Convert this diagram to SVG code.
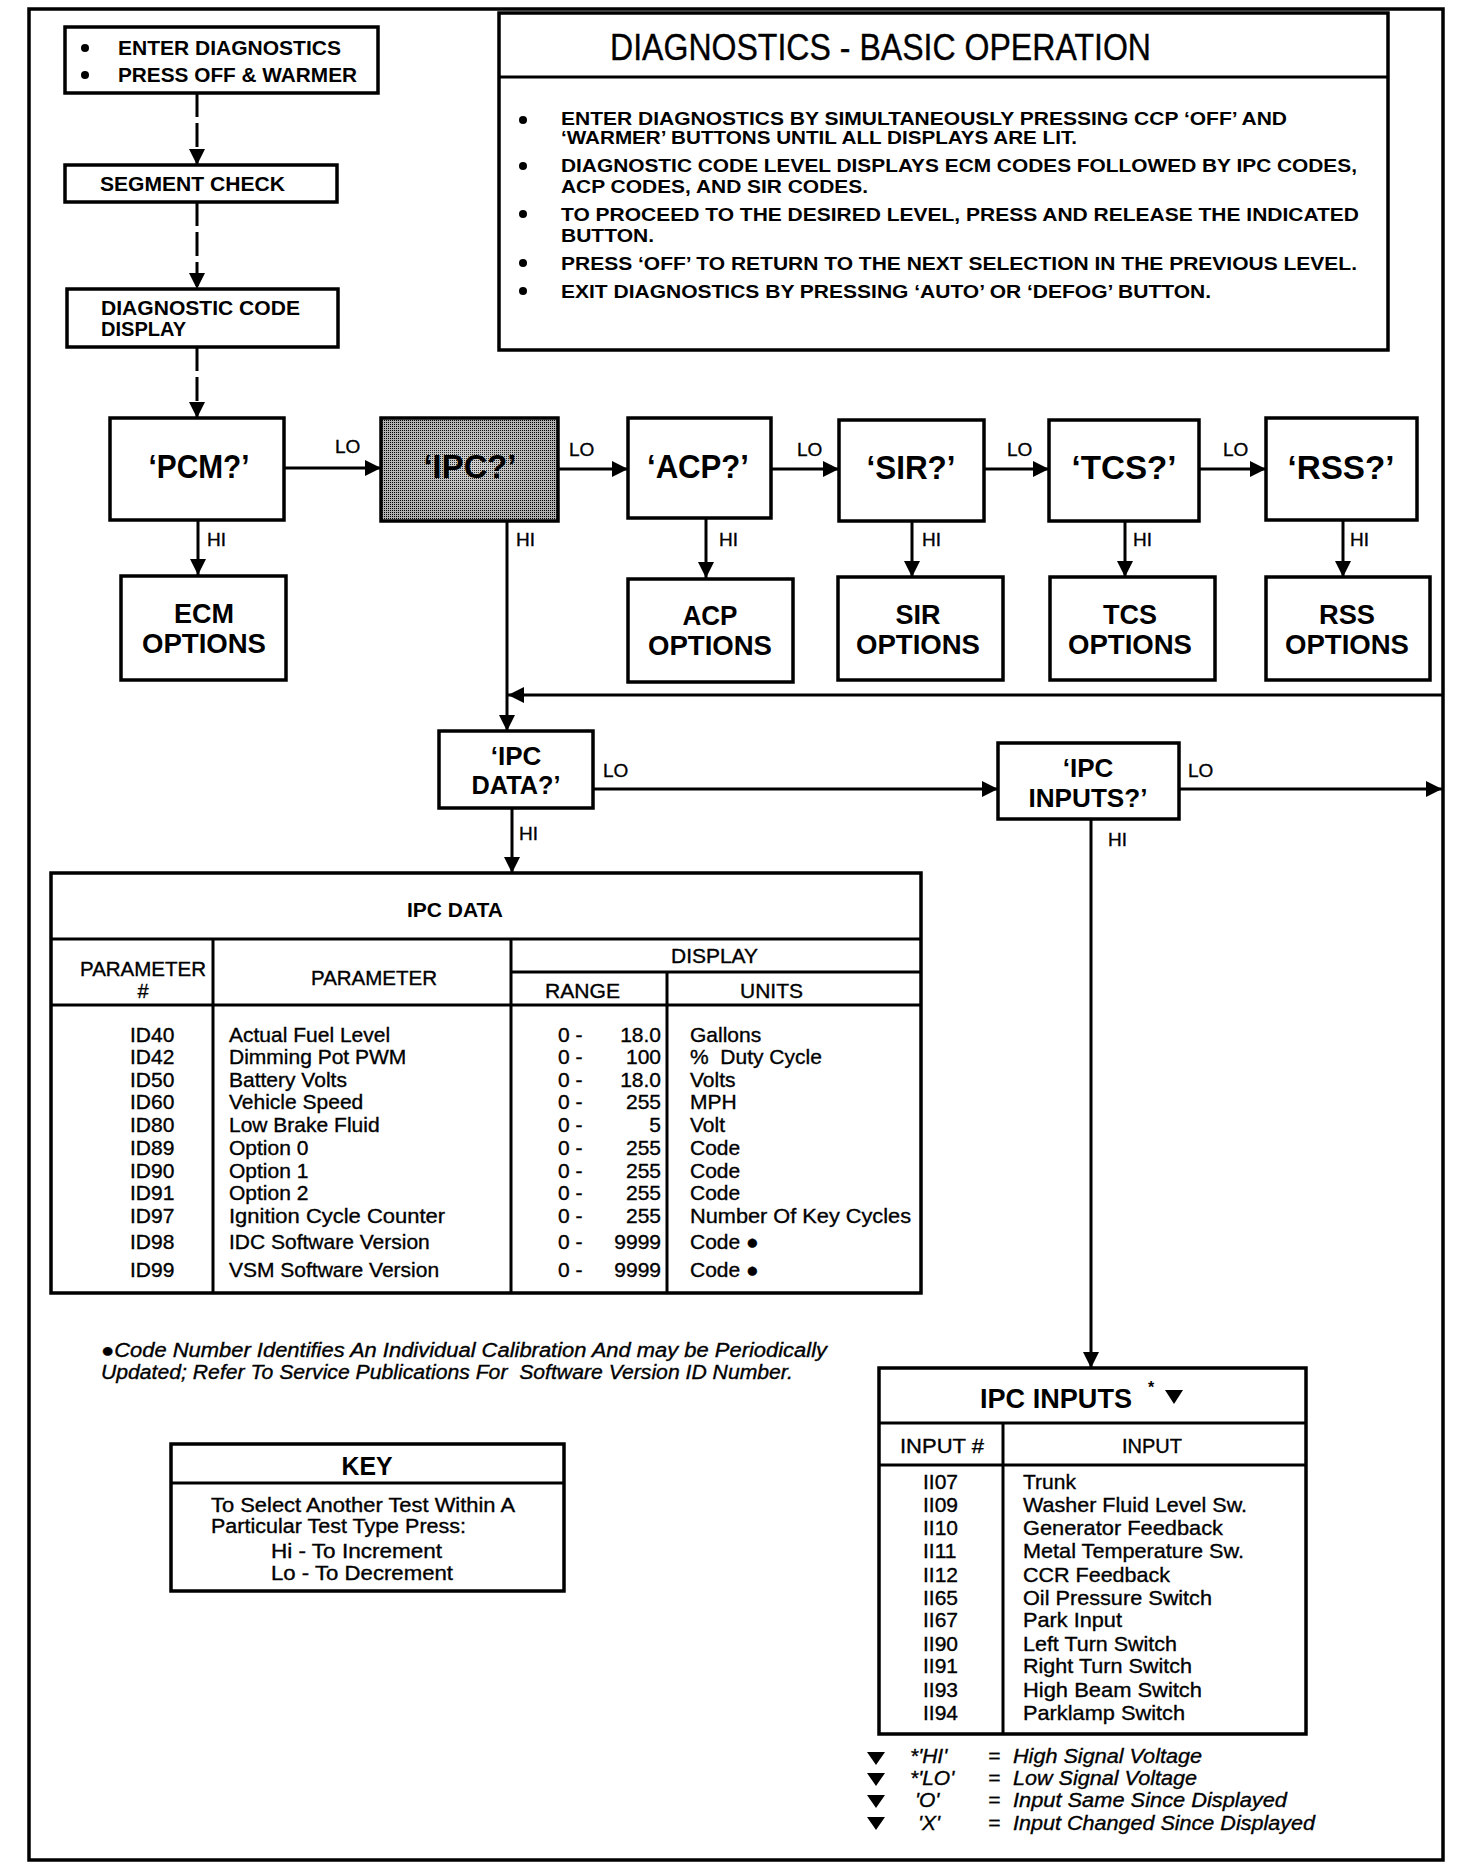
<svg xmlns="http://www.w3.org/2000/svg" width="1472" height="1872" viewBox="0 0 1472 1872">
<style>
text{font-family:"Liberation Sans",Arial,sans-serif;fill:#000}
.b{font-weight:bold}
.box{fill:#fff;stroke:#000;stroke-width:3.5}
.ln{fill:none;stroke:#000;stroke-width:3}
.dash{stroke-dasharray:24 6}
.c{text-anchor:middle}
.e{text-anchor:end}
.it{font-style:italic}
.t20{font-size:20px}
.t21{font-size:21px}
.lbl{font-size:19px}
.big{font-size:33px;font-weight:bold;text-anchor:middle}
.opt{font-size:27px;font-weight:bold;text-anchor:middle}
.db{font-size:18px;font-weight:bold}
.hv{stroke:#000;stroke-width:0.35}
</style>
<defs>
<marker id="ah" viewBox="0 0 16 16" refX="16" refY="8" markerWidth="16" markerHeight="16" orient="auto" markerUnits="userSpaceOnUse"><path d="M0,0 L16,8 L0,16 Z" fill="#000"/></marker>
<pattern id="dith" width="2" height="2" patternUnits="userSpaceOnUse"><rect width="2" height="2" fill="#c8c8c8"/><rect width="1" height="1" fill="#000"/></pattern>
<radialGradient id="glow" cx="0.5" cy="0.45" r="0.6"><stop offset="0" stop-color="#fff" stop-opacity="0.2"/><stop offset="1" stop-color="#000" stop-opacity="0.12"/></radialGradient>
</defs>

<rect id="frame" x="29" y="9" width="1414" height="1851" fill="none" stroke="#000" stroke-width="3.5"/>

<g id="connectors">
<line class="ln dash" x1="197" y1="93" x2="197" y2="165" marker-end="url(#ah)"/>
<line class="ln dash" x1="197" y1="202" x2="197" y2="289" marker-end="url(#ah)"/>
<line class="ln dash" x1="197" y1="347" x2="197" y2="418" marker-end="url(#ah)"/>
<line class="ln" x1="284" y1="468" x2="381" y2="468" marker-end="url(#ah)"/>
<line class="ln" x1="558" y1="469" x2="628" y2="469" marker-end="url(#ah)"/>
<line class="ln" x1="771" y1="469" x2="839" y2="469" marker-end="url(#ah)"/>
<line class="ln" x1="984" y1="469" x2="1049" y2="469" marker-end="url(#ah)"/>
<line class="ln" x1="1199" y1="469" x2="1266" y2="469" marker-end="url(#ah)"/>
<line class="ln" x1="198" y1="520" x2="198" y2="575" marker-end="url(#ah)"/>
<line class="ln" x1="706" y1="518" x2="706" y2="578" marker-end="url(#ah)"/>
<line class="ln" x1="912" y1="521" x2="912" y2="577" marker-end="url(#ah)"/>
<line class="ln" x1="1125" y1="521" x2="1125" y2="577" marker-end="url(#ah)"/>
<line class="ln" x1="1343" y1="520" x2="1343" y2="577" marker-end="url(#ah)"/>
<line class="ln" x1="507" y1="521" x2="507" y2="731" marker-end="url(#ah)"/>
<line class="ln" x1="1443" y1="695" x2="508" y2="695" marker-end="url(#ah)"/>
<line class="ln" x1="593" y1="789" x2="998" y2="789" marker-end="url(#ah)"/>
<line class="ln" x1="1179" y1="789" x2="1442" y2="789" marker-end="url(#ah)"/>
<line class="ln" x1="512" y1="809" x2="512" y2="873" marker-end="url(#ah)"/>
<line class="ln" x1="1091" y1="820" x2="1091" y2="1368" marker-end="url(#ah)"/>
<g class="hv">
<text class="lbl" x="335" y="453">LO</text>
<text class="lbl" x="569" y="456">LO</text>
<text class="lbl" x="797" y="456">LO</text>
<text class="lbl" x="1007" y="456">LO</text>
<text class="lbl" x="1223" y="456">LO</text>
<text class="lbl" x="207" y="546">HI</text>
<text class="lbl" x="516" y="546">HI</text>
<text class="lbl" x="719" y="546">HI</text>
<text class="lbl" x="922" y="546">HI</text>
<text class="lbl" x="1133" y="546">HI</text>
<text class="lbl" x="1350" y="546">HI</text>
<text class="lbl" x="603" y="777">LO</text>
<text class="lbl" x="519" y="840">HI</text>
<text class="lbl" x="1188" y="777">LO</text>
<text class="lbl" x="1108" y="846">HI</text>
</g>
</g>

<g id="enter">
<rect class="box" x="65" y="27" width="313" height="66"/>
<circle cx="85" cy="48" r="4"/>
<circle cx="85" cy="75" r="4"/>
<text class="b t21" x="118" y="55" textLength="223" lengthAdjust="spacingAndGlyphs">ENTER DIAGNOSTICS</text>
<text class="b t21" x="118" y="82" textLength="239" lengthAdjust="spacingAndGlyphs">PRESS OFF &amp; WARMER</text>
</g>

<g id="segment">
<rect class="box" x="65" y="165" width="272" height="37"/>
<text class="b t21" x="100" y="191" textLength="185" lengthAdjust="spacingAndGlyphs">SEGMENT CHECK</text>
</g>

<g id="codedisplay">
<rect class="box" x="67" y="289" width="271" height="58"/>
<text class="b t21" x="101" y="315" textLength="199" lengthAdjust="spacingAndGlyphs">DIAGNOSTIC CODE</text>
<text class="b t21" x="101" y="336" textLength="85" lengthAdjust="spacingAndGlyphs">DISPLAY</text>
</g>

<g id="basicop">
<rect class="box" x="499" y="13" width="889" height="337"/>
<line class="ln" x1="499" y1="77" x2="1388" y2="77" stroke-width="3.5"/>
<text class="hv" x="610" y="60" font-size="37" textLength="541" lengthAdjust="spacingAndGlyphs">DIAGNOSTICS - BASIC OPERATION</text>
<circle cx="523" cy="120" r="4"/>
<circle cx="523" cy="166" r="4"/>
<circle cx="523" cy="214" r="4"/>
<circle cx="523" cy="263" r="4"/>
<circle cx="523" cy="291" r="4"/>
<text class="db" x="561" y="125" textLength="726" lengthAdjust="spacingAndGlyphs">ENTER DIAGNOSTICS BY SIMULTANEOUSLY PRESSING CCP ‘OFF’ AND</text>
<text class="db" x="561" y="144" textLength="516" lengthAdjust="spacingAndGlyphs">‘WARMER’ BUTTONS UNTIL ALL DISPLAYS ARE LIT.</text>
<text class="db" x="561" y="172" textLength="796" lengthAdjust="spacingAndGlyphs">DIAGNOSTIC CODE LEVEL DISPLAYS ECM CODES FOLLOWED BY IPC CODES,</text>
<text class="db" x="561" y="193" textLength="307" lengthAdjust="spacingAndGlyphs">ACP CODES, AND SIR CODES.</text>
<text class="db" x="561" y="221" textLength="798" lengthAdjust="spacingAndGlyphs">TO PROCEED TO THE DESIRED LEVEL, PRESS AND RELEASE THE INDICATED</text>
<text class="db" x="561" y="242" textLength="93" lengthAdjust="spacingAndGlyphs">BUTTON.</text>
<text class="db" x="561" y="270" textLength="796" lengthAdjust="spacingAndGlyphs">PRESS ‘OFF’ TO RETURN TO THE NEXT SELECTION IN THE PREVIOUS LEVEL.</text>
<text class="db" x="561" y="298" textLength="650" lengthAdjust="spacingAndGlyphs">EXIT DIAGNOSTICS BY PRESSING ‘AUTO’ OR ‘DEFOG’ BUTTON.</text>
</g>

<g id="pcm">
<rect class="box" x="110" y="418" width="174" height="102"/>
<text class="big" x="199" y="478" textLength="101" lengthAdjust="spacingAndGlyphs">‘PCM?’</text>
</g>
<g id="ipc">
<rect x="381" y="418" width="177" height="103" fill="url(#dith)" stroke="#000" stroke-width="3.5"/>
<rect x="383" y="420" width="173" height="99" fill="url(#glow)"/>
<text class="big" x="470" y="478" textLength="93" lengthAdjust="spacingAndGlyphs">‘IPC?’</text>
</g>
<g id="acp">
<rect class="box" x="628" y="418" width="143" height="100"/>
<text class="big" x="698" y="478" textLength="102" lengthAdjust="spacingAndGlyphs">‘ACP?’</text>
</g>
<g id="sir">
<rect class="box" x="839" y="420" width="145" height="101"/>
<text class="big" x="911" y="479" textLength="89" lengthAdjust="spacingAndGlyphs">‘SIR?’</text>
</g>
<g id="tcs">
<rect class="box" x="1049" y="420" width="150" height="101"/>
<text class="big" x="1124" y="479" textLength="105" lengthAdjust="spacingAndGlyphs">‘TCS?’</text>
</g>
<g id="rss">
<rect class="box" x="1266" y="418" width="151" height="102"/>
<text class="big" x="1341" y="479" textLength="107" lengthAdjust="spacingAndGlyphs">‘RSS?’</text>
</g>

<g id="ecmopt">
<rect class="box" x="121" y="576" width="165" height="104"/>
<text class="opt" x="204" y="623" textLength="60" lengthAdjust="spacingAndGlyphs">ECM</text>
<text class="opt" x="204" y="653" textLength="124" lengthAdjust="spacingAndGlyphs">OPTIONS</text>
</g>
<g id="acpopt">
<rect class="box" x="628" y="579" width="165" height="103"/>
<text class="opt" x="710" y="625" textLength="55" lengthAdjust="spacingAndGlyphs">ACP</text>
<text class="opt" x="710" y="655" textLength="124" lengthAdjust="spacingAndGlyphs">OPTIONS</text>
</g>
<g id="siropt">
<rect class="box" x="838" y="577" width="165" height="103"/>
<text class="opt" x="918" y="624" textLength="45" lengthAdjust="spacingAndGlyphs">SIR</text>
<text class="opt" x="918" y="654" textLength="124" lengthAdjust="spacingAndGlyphs">OPTIONS</text>
</g>
<g id="tcsopt">
<rect class="box" x="1050" y="577" width="165" height="103"/>
<text class="opt" x="1130" y="624" textLength="54" lengthAdjust="spacingAndGlyphs">TCS</text>
<text class="opt" x="1130" y="654" textLength="124" lengthAdjust="spacingAndGlyphs">OPTIONS</text>
</g>
<g id="rssopt">
<rect class="box" x="1266" y="577" width="164" height="103"/>
<text class="opt" x="1347" y="624" textLength="56" lengthAdjust="spacingAndGlyphs">RSS</text>
<text class="opt" x="1347" y="654" textLength="124" lengthAdjust="spacingAndGlyphs">OPTIONS</text>
</g>

<g id="ipcdataq">
<rect class="box" x="439" y="731" width="154" height="77"/>
<text class="b c" x="516" y="765" font-size="26">‘IPC</text>
<text class="b c" x="516" y="794" font-size="26" textLength="89" lengthAdjust="spacingAndGlyphs">DATA?’</text>
</g>
<g id="ipcinputsq">
<rect class="box" x="998" y="743" width="181" height="76"/>
<text class="b c" x="1088" y="777" font-size="26">‘IPC</text>
<text class="b c" x="1088" y="807" font-size="26" textLength="119" lengthAdjust="spacingAndGlyphs">INPUTS?’</text>
</g>

<g id="ipcdata">
<rect class="box" x="51" y="873" width="870" height="420"/>
<g class="ln">
<line x1="51" y1="939" x2="921" y2="939"/>
<line x1="511" y1="972" x2="921" y2="972"/>
<line x1="51" y1="1005" x2="921" y2="1005"/>
<line x1="213" y1="939" x2="213" y2="1293"/>
<line x1="511" y1="939" x2="511" y2="1293"/>
<line x1="667" y1="972" x2="667" y2="1293"/>
</g>
<text class="b c t21" x="455" y="917">IPC DATA</text>
<g class="hv">
<text x="80" y="976" font-size="20" textLength="126" lengthAdjust="spacingAndGlyphs">PARAMETER</text>
<text class="c" x="143" y="998" font-size="20">#</text>
<text x="311" y="985" font-size="20" textLength="126" lengthAdjust="spacingAndGlyphs">PARAMETER</text>
<text x="671" y="963" font-size="20" textLength="87" lengthAdjust="spacingAndGlyphs">DISPLAY</text>
<text x="545" y="998" font-size="20" textLength="75" lengthAdjust="spacingAndGlyphs">RANGE</text>
<text x="740" y="998" font-size="20" textLength="63" lengthAdjust="spacingAndGlyphs">UNITS</text>
</g>
<g class="t21 hv">
<text x="130" y="1042">ID40</text><text x="229" y="1042">Actual Fuel Level</text><text x="558" y="1042">0 -</text><text class="e" x="661" y="1042">18.0</text><text x="690" y="1042">Gallons</text>
<text x="130" y="1064">ID42</text><text x="229" y="1064">Dimming Pot PWM</text><text x="558" y="1064">0 -</text><text class="e" x="661" y="1064">100</text><text x="690" y="1064" xml:space="preserve">%  Duty Cycle</text>
<text x="130" y="1087">ID50</text><text x="229" y="1087">Battery Volts</text><text x="558" y="1087">0 -</text><text class="e" x="661" y="1087">18.0</text><text x="690" y="1087">Volts</text>
<text x="130" y="1109">ID60</text><text x="229" y="1109">Vehicle Speed</text><text x="558" y="1109">0 -</text><text class="e" x="661" y="1109">255</text><text x="690" y="1109">MPH</text>
<text x="130" y="1132">ID80</text><text x="229" y="1132">Low Brake Fluid</text><text x="558" y="1132">0 -</text><text class="e" x="661" y="1132">5</text><text x="690" y="1132">Volt</text>
<text x="130" y="1155">ID89</text><text x="229" y="1155">Option 0</text><text x="558" y="1155">0 -</text><text class="e" x="661" y="1155">255</text><text x="690" y="1155">Code</text>
<text x="130" y="1178">ID90</text><text x="229" y="1178">Option 1</text><text x="558" y="1178">0 -</text><text class="e" x="661" y="1178">255</text><text x="690" y="1178">Code</text>
<text x="130" y="1200">ID91</text><text x="229" y="1200">Option 2</text><text x="558" y="1200">0 -</text><text class="e" x="661" y="1200">255</text><text x="690" y="1200">Code</text>
<text x="130" y="1223">ID97</text><text x="229" y="1223" textLength="216" lengthAdjust="spacingAndGlyphs">Ignition Cycle Counter</text><text x="558" y="1223">0 -</text><text class="e" x="661" y="1223">255</text><text x="690" y="1223" textLength="221" lengthAdjust="spacingAndGlyphs">Number Of Key Cycles</text>
<text x="130" y="1249">ID98</text><text x="229" y="1249">IDC Software Version</text><text x="558" y="1249">0 -</text><text class="e" x="661" y="1249">9999</text><text x="690" y="1249">Code ●</text>
<text x="130" y="1277">ID99</text><text x="229" y="1277">VSM Software Version</text><text x="558" y="1277">0 -</text><text class="e" x="661" y="1277">9999</text><text x="690" y="1277">Code ●</text>
</g>
</g>

<g id="footnote" class="hv">
<text class="it t20" x="101" y="1357" textLength="726" lengthAdjust="spacingAndGlyphs">●Code Number Identifies An Individual Calibration And may be Periodically</text>
<text class="it t20" x="101" y="1379" textLength="692" lengthAdjust="spacingAndGlyphs" xml:space="preserve">Updated; Refer To Service Publications For  Software Version ID Number.</text>
</g>

<g id="key">
<rect class="box" x="171" y="1444" width="393" height="147"/>
<line class="ln" x1="171" y1="1483" x2="564" y2="1483"/>
<text class="b c" x="367" y="1475" font-size="26" textLength="51" lengthAdjust="spacingAndGlyphs">KEY</text>
<g class="hv">
<text class="t20" x="211" y="1512" textLength="304" lengthAdjust="spacingAndGlyphs">To Select Another Test Within A</text>
<text class="t20" x="211" y="1533" textLength="255" lengthAdjust="spacingAndGlyphs">Particular Test Type Press:</text>
<text class="t20" x="271" y="1558" textLength="171" lengthAdjust="spacingAndGlyphs">Hi - To Increment</text>
<text class="t20" x="271" y="1580" textLength="182" lengthAdjust="spacingAndGlyphs">Lo - To Decrement</text>
</g>
</g>

<g id="ipcinputs">
<rect class="box" x="879" y="1368" width="427" height="366"/>
<g class="ln">
<line x1="879" y1="1423" x2="1306" y2="1423"/>
<line x1="879" y1="1465" x2="1306" y2="1465"/>
<line x1="1003" y1="1423" x2="1003" y2="1734"/>
</g>
<text class="b" x="980" y="1408" font-size="27" textLength="152" lengthAdjust="spacingAndGlyphs">IPC INPUTS</text>
<text class="b" x="1148" y="1393" font-size="16">*</text>
<polygon points="1165,1390 1183,1390 1174,1404"/>
<g class="hv">
<text x="900" y="1453" font-size="20" textLength="84" lengthAdjust="spacingAndGlyphs">INPUT #</text>
<text x="1122" y="1453" font-size="20" textLength="60" lengthAdjust="spacingAndGlyphs">INPUT</text>
</g>
<g class="t21 hv">
<text x="923" y="1489">II07</text><text x="1023" y="1489">Trunk</text>
<text x="923" y="1512">II09</text><text x="1023" y="1512" textLength="224" lengthAdjust="spacingAndGlyphs">Washer Fluid Level Sw.</text>
<text x="923" y="1535">II10</text><text x="1023" y="1535" textLength="200" lengthAdjust="spacingAndGlyphs">Generator Feedback</text>
<text x="923" y="1558">II11</text><text x="1023" y="1558" textLength="221" lengthAdjust="spacingAndGlyphs">Metal Temperature Sw.</text>
<text x="923" y="1582">II12</text><text x="1023" y="1582" textLength="147" lengthAdjust="spacingAndGlyphs">CCR Feedback</text>
<text x="923" y="1605">II65</text><text x="1023" y="1605" textLength="189" lengthAdjust="spacingAndGlyphs">Oil Pressure Switch</text>
<text x="923" y="1627">II67</text><text x="1023" y="1627" textLength="99" lengthAdjust="spacingAndGlyphs">Park Input</text>
<text x="923" y="1651">II90</text><text x="1023" y="1651" textLength="154" lengthAdjust="spacingAndGlyphs">Left Turn Switch</text>
<text x="923" y="1673">II91</text><text x="1023" y="1673" textLength="169" lengthAdjust="spacingAndGlyphs">Right Turn Switch</text>
<text x="923" y="1697">II93</text><text x="1023" y="1697" textLength="179" lengthAdjust="spacingAndGlyphs">High Beam Switch</text>
<text x="923" y="1720">II94</text><text x="1023" y="1720" textLength="162" lengthAdjust="spacingAndGlyphs">Parklamp Switch</text>
</g>
</g>

<g id="legend">
<polygon points="867,1752 885,1752 876,1765"/>
<polygon points="867,1773 885,1773 876,1786"/>
<polygon points="867,1795 885,1795 876,1808"/>
<polygon points="867,1817 885,1817 876,1830"/>
<g class="it t21 hv">
<text x="910" y="1763">*'HI'</text><text x="988" y="1763">=</text><text x="1013" y="1763" textLength="189" lengthAdjust="spacingAndGlyphs">High Signal Voltage</text>
<text x="910" y="1785">*'LO'</text><text x="988" y="1785">=</text><text x="1013" y="1785" textLength="184" lengthAdjust="spacingAndGlyphs">Low Signal Voltage</text>
<text x="915" y="1807">'O'</text><text x="988" y="1807">=</text><text x="1013" y="1807" textLength="274" lengthAdjust="spacingAndGlyphs">Input Same Since Displayed</text>
<text x="918" y="1830">'X'</text><text x="988" y="1830">=</text><text x="1013" y="1830" textLength="302" lengthAdjust="spacingAndGlyphs">Input Changed Since Displayed</text>
</g>
</g>
</svg>
